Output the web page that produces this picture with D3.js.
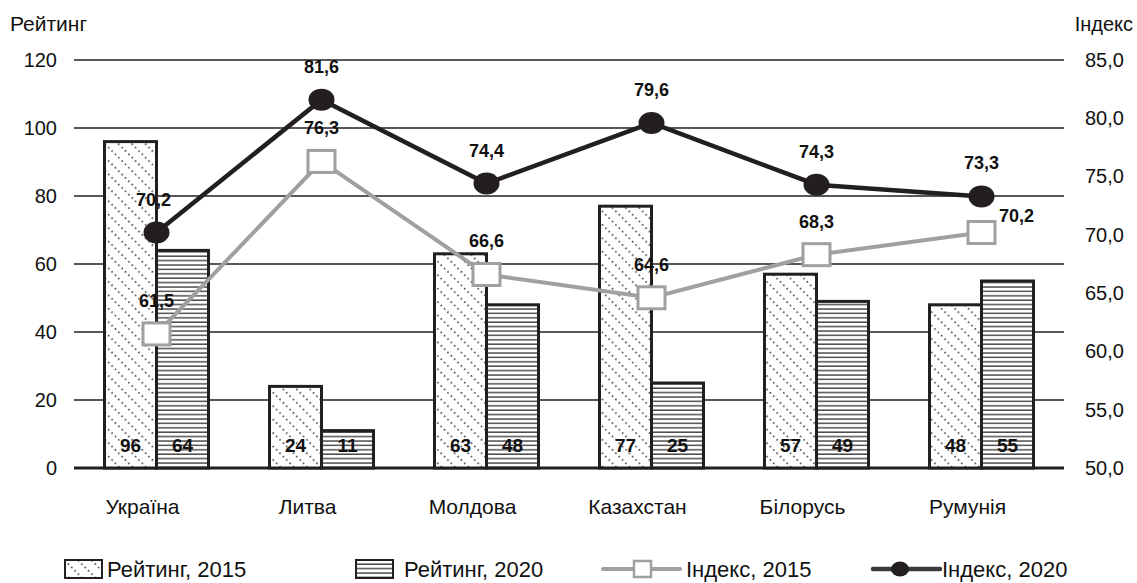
<!DOCTYPE html>
<html>
<head>
<meta charset="utf-8">
<script src="https://cdn.jsdelivr.net/npm/d3@7"></script>
<style>
  html, body { margin: 0; padding: 0; background: #fff; }
  svg { display: block; font-family: "Liberation Sans", Arial, sans-serif; }
</style>
</head>
<body>
<svg id="chart" width="1137" height="583"></svg>
<script>
// Countries and their values
const categories = ["Україна", "Литва", "Молдова", "Казахстан", "Білорусь", "Румунія"];
const rating2015 = [96, 24, 63, 77, 57, 48];
const rating2020 = [64, 11, 48, 25, 49, 55];
const index2015 = [61.5, 76.3, 66.6, 64.6, 68.3, 70.2];
const index2020 = [70.2, 81.6, 74.4, 79.6, 74.3, 73.3];
const leftTicks = [0, 20, 40, 60, 80, 100, 120];
const rightTicks = [50, 55, 60, 65, 70, 75, 80, 85];

const svg = d3.select("#chart");
const plotLeft = 74, plotRight = 1064, plotTop = 60, plotBottom = 468;

const x = d3.scaleBand().domain(categories).range([plotLeft, plotRight]).padding(0);
const xSub = d3.scaleBand().domain(["2015", "2020"]).range([0, 104]);
const yL = d3.scaleLinear().domain([0, 120]).range([plotBottom, plotTop]);
const yR = d3.scaleLinear().domain([50, 85]).range([plotBottom, plotTop]);
const subOffset = (x.bandwidth() - 104) / 2;

// Hatch fills
const defs = svg.append("defs");
const p1 = defs.append("pattern").attr("id", "hatch2015")
  .attr("patternUnits", "userSpaceOnUse").attr("width", 9.5).attr("height", 9.5)
  .attr("patternTransform", "rotate(-45)");
p1.append("rect").attr("width", 9.5).attr("height", 9.5).attr("fill", "#fff");
p1.append("line").attr("x1", 1).attr("y1", 0).attr("x2", 1).attr("y2", 9.5)
  .attr("stroke", "#111").attr("stroke-width", 1.4).attr("stroke-dasharray", "1.4,3.35");

const p2 = defs.append("pattern").attr("id", "hatch2020")
  .attr("patternUnits", "userSpaceOnUse").attr("width", 8).attr("height", 4.4);
p2.append("rect").attr("width", 8).attr("height", 4.4).attr("fill", "#fff");
p2.append("line").attr("x1", 0).attr("y1", 1).attr("x2", 8).attr("y2", 1)
  .attr("stroke", "#333").attr("stroke-width", 1.3);

// Gridlines
svg.append("g").selectAll("line").data(leftTicks).join("line")
  .attr("x1", plotLeft).attr("x2", plotRight)
  .attr("y1", d => yL(d)).attr("y2", d => yL(d))
  .attr("stroke", "#231f20").attr("stroke-width", d => d === 0 ? 3 : 1.5);

// Left axis labels
const leftAxis = d3.axisLeft(yL).tickValues(leftTicks).tickSize(0).tickPadding(0);
const gL = svg.append("g").attr("transform", "translate(57,0)").call(leftAxis);
gL.select(".domain").remove();
gL.selectAll("text").attr("font-size", 20).attr("fill", "#111")
  .attr("font-family", "Liberation Sans, Arial, sans-serif");

// Right axis labels
const rightAxis = d3.axisRight(yR).tickValues(rightTicks).tickSize(0).tickPadding(0)
  .tickFormat(d => d3.format(".1f")(d).replace(".", ","));
const gR = svg.append("g").attr("transform", "translate(1085,0)").call(rightAxis);
gR.select(".domain").remove();
gR.selectAll("text").attr("font-size", 20).attr("fill", "#111")
  .attr("font-family", "Liberation Sans, Arial, sans-serif");

// Axis titles
svg.append("text").attr("x", 10).attr("y", 31).attr("font-size", 21).attr("fill", "#111").text("Рейтинг");
svg.append("text").attr("x", 1133).attr("y", 31).attr("text-anchor", "end").attr("font-size", 20).attr("fill", "#111").text("Індекс");

// Bars
const barData = categories.flatMap((c, i) => [
  { c, s: "2015", v: rating2015[i] },
  { c, s: "2020", v: rating2020[i] }
]);
const bars = svg.append("g");
bars.selectAll("rect").data(barData).join("rect")
  .attr("x", d => x(d.c) + subOffset + xSub(d.s))
  .attr("y", d => yL(d.v))
  .attr("width", xSub.bandwidth())
  .attr("height", d => yL(0) - yL(d.v))
  .attr("fill", d => d.s === "2015" ? "url(#hatch2015)" : "url(#hatch2020)")
  .attr("stroke", "#231f20").attr("stroke-width", 3);

bars.selectAll("text").data(barData).join("text")
  .attr("x", d => x(d.c) + subOffset + xSub(d.s) + xSub.bandwidth() / 2)
  .attr("y", 452)
  .attr("text-anchor", "middle").attr("font-size", 19).attr("font-weight", "bold")
  .attr("fill", "#111")
  .text(d => d.v);

// Category labels
svg.append("g").selectAll("text").data(categories).join("text")
  .attr("x", d => x(d) + x.bandwidth() / 2 - 14)
  .attr("y", 514)
  .attr("text-anchor", "middle").attr("font-size", 21).attr("fill", "#111")
  .text(d => d);

const cx = c => x(c) + x.bandwidth() / 2;
const fmt = v => d3.format(".1f")(v).replace(".", ",");

// Index 2015 line
const line2015 = d3.line().x((d, i) => cx(categories[i])).y(d => yR(d));
svg.append("path").datum(index2015).attr("d", line2015)
  .attr("fill", "none").attr("stroke", "#a0a0a0").attr("stroke-width", 4);
svg.append("g").selectAll("rect").data(index2015).join("rect")
  .attr("x", (d, i) => cx(categories[i]) - 13.5).attr("y", d => yR(d) - 11)
  .attr("width", 27).attr("height", 22)
  .attr("fill", "#fff").attr("stroke", "#a0a0a0").attr("stroke-width", 3);

// Index 2020 line
const line2020 = d3.line().x((d, i) => cx(categories[i])).y(d => yR(d));
svg.append("path").datum(index2020).attr("d", line2020)
  .attr("fill", "none").attr("stroke", "#231f20").attr("stroke-width", 4.5);
svg.append("g").selectAll("ellipse").data(index2020).join("ellipse")
  .attr("cx", (d, i) => cx(categories[i])).attr("cy", d => yR(d))
  .attr("rx", 13).attr("ry", 11)
  .attr("fill", "#231f20");

// Point labels
const lbl = svg.append("g").attr("font-size", 18).attr("font-weight", "bold")
  .attr("fill", "#111").attr("text-anchor", "middle");
lbl.selectAll("text.i15").data(index2015).join("text").attr("class", "i15")
  .attr("x", (d, i) => cx(categories[i]) + (i === 5 ? 35 : 0))
  .attr("y", (d, i) => yR(d) - (i === 5 ? 11 : 27))
  .text(d => fmt(d));
lbl.selectAll("text.i20").data(index2020).join("text").attr("class", "i20")
  .attr("x", (d, i) => cx(categories[i]) - (i === 0 ? 3 : 0))
  .attr("y", d => yR(d) - 27)
  .text(d => fmt(d));

// Legend
const lg = svg.append("g").attr("font-size", 22).attr("fill", "#111");
const ly = 569;
lg.append("rect").attr("x", 65).attr("y", ly - 9).attr("width", 37).attr("height", 18)
  .attr("fill", "url(#hatch2015)").attr("stroke", "#231f20").attr("stroke-width", 2);
lg.append("text").attr("x", 107).attr("y", ly + 8).text("Рейтинг, 2015");
lg.append("rect").attr("x", 356).attr("y", ly - 9).attr("width", 37).attr("height", 18)
  .attr("fill", "url(#hatch2020)").attr("stroke", "#231f20").attr("stroke-width", 2);
lg.append("text").attr("x", 404).attr("y", ly + 8).text("Рейтинг, 2020");
lg.append("line").attr("x1", 603).attr("x2", 680).attr("y1", ly).attr("y2", ly)
  .attr("stroke", "#a0a0a0").attr("stroke-width", 4).attr("stroke-linecap", "round");
lg.append("rect").attr("x", 634).attr("y", ly - 8).attr("width", 17).attr("height", 16)
  .attr("fill", "#fff").attr("stroke", "#a0a0a0").attr("stroke-width", 2.5);
lg.append("text").attr("x", 686).attr("y", ly + 8).text("Індекс, 2015");
lg.append("line").attr("x1", 873).attr("x2", 940).attr("y1", ly).attr("y2", ly)
  .attr("stroke", "#3a3a3a").attr("stroke-width", 4.5).attr("stroke-linecap", "round");
lg.append("ellipse").attr("cx", 900).attr("cy", ly).attr("rx", 9).attr("ry", 7.5).attr("fill", "#231f20");
lg.append("text").attr("x", 942).attr("y", ly + 8).text("Індекс, 2020");
</script>
</body>
</html>
